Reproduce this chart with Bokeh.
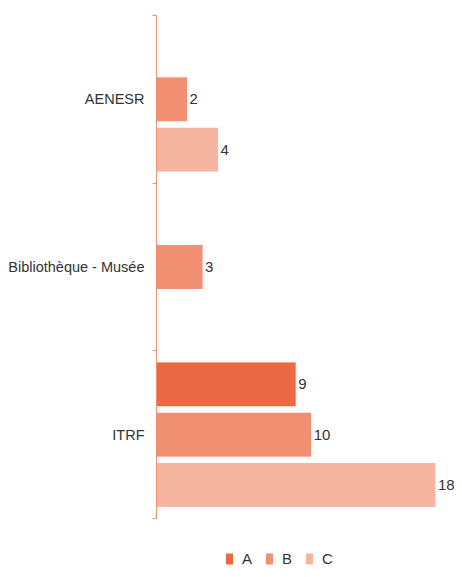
from bokeh.plotting import figure
from bokeh.models import (ColumnDataSource, Range1d, FixedTicker, Legend, LegendItem)
from bokeh.core.properties import value
from bokeh.embed import file_html
from bokeh.resources import INLINE

categories = ["AENESR", "Bibliothèque - Musée", "ITRF"]
series = ["A", "B", "C"]
values_A = [None, None, 9]
values_B = [2, 3, 10]
values_C = [4, None, 18]
colors = ["#EC6A43", "#F08F71", "#F5B5A0"]

FONT = "Liberation Sans"
n = len(categories)
centers = [n - i - 0.5 for i in range(n)]
offsets = [0.3, 0.0, -0.3]

# layout: frame spans 15..569 px; the category area uses 15..518 px, legend sits below it
H, TOP, CAT_BOTTOM = 569, 15, 518
units_per_px = n / (CAT_BOTTOM - TOP)
y_start = -(H - CAT_BOTTOM) * units_per_px

p = figure(width=454, height=H, x_range=Range1d(0, 19.2), y_range=Range1d(y_start, n),
           output_backend="svg", toolbar_location=None,
           min_border_left=156, min_border_right=0, min_border_top=TOP, min_border_bottom=0)
p.outline_line_color = None
p.xgrid.visible = False
p.ygrid.visible = False
p.xaxis.visible = False

items = []
for s, vals, col, off in zip(series, [values_A, values_B, values_C], colors, offsets):
    xs, ys, labs = [], [], []
    for c, v in zip(centers, vals):
        if v is not None:
            xs.append(v)
            ys.append(c + off)
            labs.append(str(v))
    src = ColumnDataSource(dict(x=xs, y=ys, lab=labs))
    r = p.hbar(y="y", right="x", left=0, height=0.268, source=src,
               fill_color=col, line_color="white", line_width=1)
    p.text(x="x", y="y", text="lab", source=src, x_offset=2,
           text_align="left", text_baseline="middle",
           text_font=value(FONT), text_font_size="15px", text_color="#333333")
    items.append(LegendItem(label=s, renderers=[r]))

ax = p.yaxis[0]
ax.bounds = (0, n)
ax.ticker = FixedTicker(ticks=centers, minor_ticks=list(range(n + 1)))
ax.major_label_overrides = {c: cat for c, cat in zip(centers, categories)}
ax.major_tick_out = 0
ax.major_tick_in = 0
ax.minor_tick_out = 4
ax.minor_tick_in = 0
ax.axis_line_color = "#F0906F"
ax.minor_tick_line_color = "#F0906F"
ax.major_label_standoff = 8
ax.major_label_text_font = FONT
ax.major_label_text_font_size = "14.5px"
ax.major_label_text_color = "#333333"

legend = Legend(items=items, orientation="horizontal", location=(68, 2),
                glyph_width=10, glyph_height=15, label_height=15, label_standoff=8,
                spacing=2, padding=0, margin=0, border_line_color=None,
                background_fill_alpha=0, label_text_font=FONT,
                label_text_font_size="15px", label_text_color="#333333")
p.add_layout(legend, "center")

open("out.html", "w").write(file_html(p, INLINE))
